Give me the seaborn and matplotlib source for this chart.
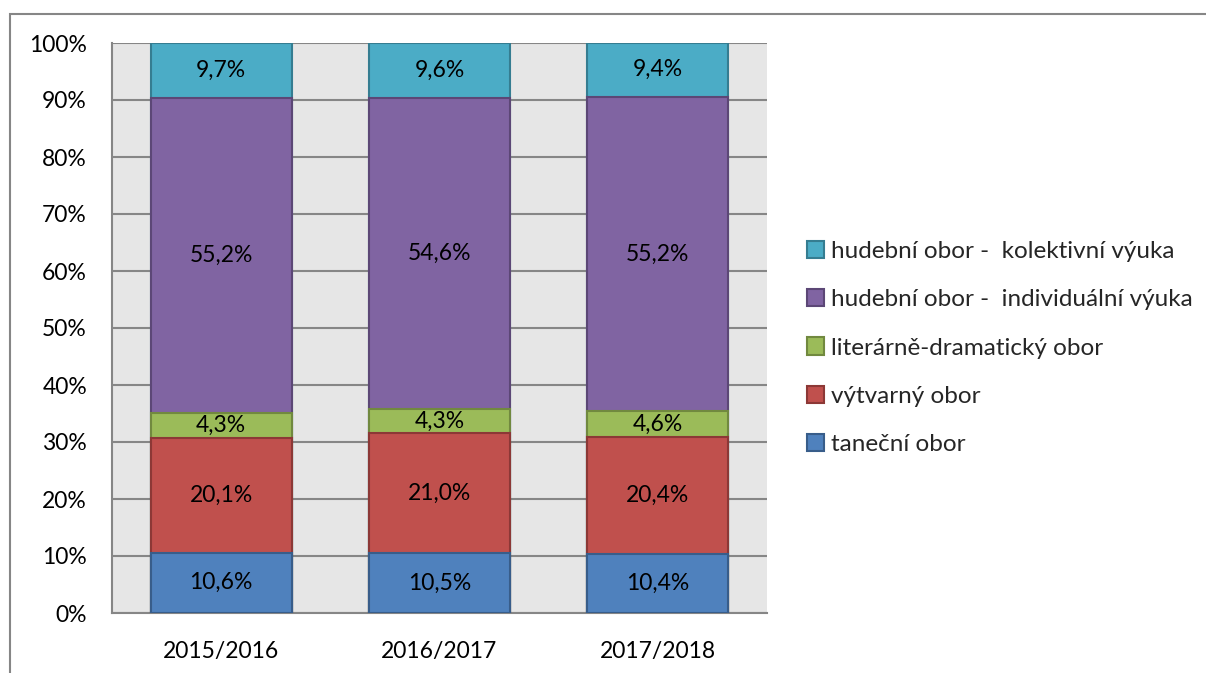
import numpy as np
import pandas as pd
import matplotlib
matplotlib.use("Agg")
import matplotlib.pyplot as plt
from matplotlib.patches import Patch, Rectangle
import seaborn as sns

years = ["2015/2016", "2016/2017", "2017/2018"]
series = [
    "taneční obor",
    "výtvarný obor",
    "literárně-dramatický obor",
    "hudební obor -  individuální výuka",
    "hudební obor -  kolektivní výuka",
]
tanecni = [10.6, 10.5, 10.4]
vytvarny = [20.1, 21.0, 20.4]
literarni = [4.3, 4.3, 4.6]
hudebni_ind = [55.2, 54.6, 55.2]
hudebni_kol = [9.7, 9.6, 9.4]

fills = ["#4F81BD", "#C0504D", "#9BBB59", "#8064A2", "#4BACC6"]
edges = ["#385D8A", "#8C3836", "#71893F", "#5C4776", "#357D91"]
grid_col = "#868686"

sns.set_theme(style="white")
plt.rcParams["font.family"] = ["Lato", "DejaVu Sans"]

values = np.array([tanecni, vytvarny, literarni, hudebni_ind, hudebni_kol])
share = values / values.sum(axis=0) * 100
cum = share.cumsum(axis=0)

fig = plt.figure(figsize=(12.06, 6.73), dpi=100)
ax = fig.add_axes([112 / 1206, 60 / 673, 655 / 1206, 570 / 673])
ax.set_facecolor("#E6E6E6")

# outer chart frame (clipped at right and bottom like the original)
fig.add_artist(Rectangle((10 / 1206, -0.1), 1.2, (673 - 14) / 673 + 0.1,
                         transform=fig.transFigure, fill=False,
                         edgecolor=grid_col, lw=1.5))

# draw cumulative bars from the top segment down so the stack shows
for i in range(len(series) - 1, -1, -1):
    df = pd.DataFrame({"year": years, "cum": cum[i]})
    sns.barplot(data=df, x="year", y="cum", color=fills[i], saturation=1,
                width=0.645, edgecolor=edges[i], linewidth=1.5, ax=ax, zorder=3)

# value labels
for i in range(len(series)):
    for j in range(len(years)):
        mid = cum[i][j] - share[i][j] / 2
        ax.text(j, mid, f"{values[i][j]:.1f}%".replace(".", ","),
                ha="center", va="center", fontsize=16.5, color="black", zorder=5)

ax.set_ylim(0, 100)
ax.set_xlim(-0.5, 2.5)
ax.set_yticks(range(0, 101, 10))
ax.set_yticklabels([f"{t}%" for t in range(0, 101, 10)])
ax.yaxis.grid(True, color=grid_col, lw=1.5)
ax.set_axisbelow(True)
ax.set_xlabel("")
ax.set_ylabel("")
ax.tick_params(axis="y", length=0, pad=18, labelsize=16.5, colors="black")
ax.tick_params(axis="x", length=0, pad=20, labelsize=16.5, colors="black")
for side in ["top", "right"]:
    ax.spines[side].set_visible(False)
for side in ["left", "bottom"]:
    ax.spines[side].set_color(grid_col)
    ax.spines[side].set_linewidth(1.5)

handles = [Patch(facecolor=fills[i], edgecolor=edges[i], lw=1.5, label=series[i])
           for i in range(len(series) - 1, -1, -1)]
fig.legend(handles=handles, loc="center left",
           bbox_to_anchor=(807 / 1206, (673 - 348) / 673), frameon=False,
           fontsize=17.5, handlelength=0.7, handleheight=0.7,
           handletextpad=0.3, labelspacing=1.12, borderpad=0, borderaxespad=0)

fig.savefig("out.png", dpi=100)
